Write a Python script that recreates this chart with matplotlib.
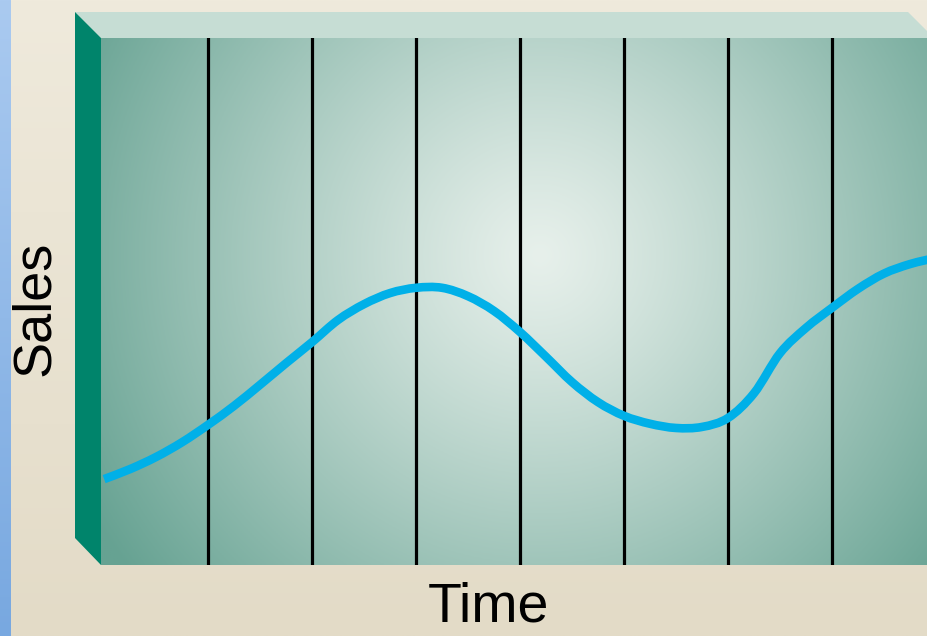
import numpy as np
import matplotlib
matplotlib.use("Agg")
import matplotlib.pyplot as plt
from matplotlib.patches import Polygon, PathPatch
from matplotlib.path import Path

# Sales over time (time in periods, sales on a 0-100 index)
time = [0.0, 0.25, 0.5, 0.75, 1.0, 1.25, 1.5, 1.75, 2.0, 2.25, 2.5, 2.75,
        3.0, 3.25, 3.5, 3.75, 4.0, 4.25, 4.5, 4.75, 5.0, 5.25, 5.5, 5.75,
        6.0, 6.25, 6.5, 6.75, 7.0, 7.25, 7.5, 7.75, 8.0]
sales = [16.3, 18.2, 20.5, 23.3, 26.6, 30.2, 34.2, 38.3, 42.3, 46.5, 49.5, 51.6,
         52.6, 52.6, 51.0, 48.2, 44.2, 39.5, 34.7, 30.9, 28.3, 26.8, 26.0, 26.2,
         27.9, 32.6, 40.2, 45.0, 48.8, 52.4, 55.3, 57.1, 58.3]
period_marks = [1, 2, 3, 4, 5, 6, 7]
x_label = "Time"
y_label = "Sales"

W, H = 928, 636
fig = plt.figure(figsize=(W / 100, H / 100), dpi=100)

# ---- backdrop: page, side strip and the 3D box faces (pixel coordinates) ----
bg = fig.add_axes([0, 0, 1, 1], zorder=0)
bg.set_xlim(0, W)
bg.set_ylim(H, 0)
bg.axis("off")

top_c = np.array([239, 234, 220]) / 255
bot_c = np.array([227, 219, 199]) / 255
g = np.linspace(0, 1, 256)[:, None, None]
page = top_c + (bot_c - top_c) * g
bg.imshow(np.repeat(page, 2, axis=1), extent=(0, W, H, 0), aspect="auto", zorder=0)

s_top = np.array([170, 202, 240]) / 255
s_bot = np.array([120, 168, 224]) / 255
strip = s_top + (s_bot - s_top) * g
bg.imshow(np.repeat(strip, 2, axis=1), extent=(0, 11, H, 0), aspect="auto", zorder=1)

bg.add_patch(Polygon([(75, 12), (908, 12), (934, 38), (101, 38)], closed=True,
                     facecolor="#c6ddd4", edgecolor="none", zorder=2))
bg.add_patch(Polygon([(75, 12), (101, 38), (101, 565), (75, 538)], closed=True,
                     facecolor="#00846b", edgecolor="none", zorder=3))

# ---- front panel: the actual chart ----
x0, x1, y0, y1 = 101, 936, 38, 565
ax = fig.add_axes([x0 / W, (H - y1) / H, (x1 - x0) / W, (y1 - y0) / H], zorder=1)
ax.set_xlim(-0.03, 8.0)
ax.set_ylim(0, 100)
ax.axis("off")

# radial light in the panel
nx, ny = 420, 264
px = np.linspace(x0, x1, nx)
py = np.linspace(y0, y1, ny)
PX, PY = np.meshgrid(px, py)
d = np.sqrt((PX - 540) ** 2 + (PY - 255) ** 2)
t = np.clip(d / 520, 0, 1) ** 1.15
c_in = np.array([231, 240, 235]) / 255
c_out = np.array([102, 162, 146]) / 255
panel = c_in + (c_out - c_in) * t[..., None]
ax.imshow(panel, extent=(-0.03, 8.0, 0, 100), origin="upper", aspect="auto", zorder=0)

for m in period_marks:
    ax.axvline(m, color="black", lw=2.3, zorder=2)

# smooth sales curve: cubic Bezier segments through the data points
pts = np.column_stack([time, sales])
ext = np.vstack([pts[0], pts, pts[-1]])
verts = [tuple(pts[0])]
codes = [Path.MOVETO]
for i in range(len(pts) - 1):
    p0, p1, p2, p3 = ext[i], ext[i + 1], ext[i + 2], ext[i + 3]
    c1 = p1 + (p2 - p0) / 6.0
    c2 = p2 - (p3 - p1) / 6.0
    verts += [tuple(c1), tuple(c2), tuple(p2)]
    codes += [Path.CURVE4] * 3
ax.add_patch(PathPatch(Path(verts, codes), facecolor="none", edgecolor="#00b0e8",
                       lw=6.2, capstyle="butt", joinstyle="round", zorder=3))

# ---- axis titles ----
fig.text(35 / W, 1 - 308 / H, y_label, rotation=90, ha="center", va="center",
         fontsize=39, family="Liberation Sans", color="black")
fig.text(488 / W, 1 - 608 / H, x_label, ha="center", va="center",
         fontsize=40, family="Liberation Sans", color="black")

fig.savefig("out.png", dpi=100)
